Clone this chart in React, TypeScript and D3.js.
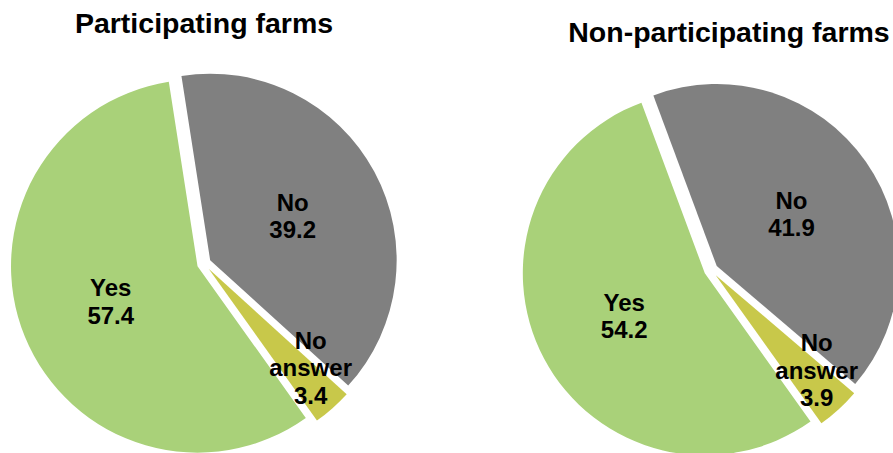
import React from "react";
import * as d3 from "d3";

const categories = ["Yes", "No", "No answer"];
const participating = [57.4, 39.2, 3.4];
const nonParticipating = [54.2, 41.9, 3.9];
const titles = ["Participating farms", "Non-participating farms"];
const colors = ["#A9D179", "#808080", "#C8C84A"];

const W = 893;
const H = 453;
const START = (144.5 * Math.PI) / 180;
const EXPLODE = 7;
const FONT = "'Liberation Sans', Arial, Helvetica, sans-serif";
const LABEL_SIZE = 24;
const LH = 27.5;
const CAP = LABEL_SIZE * 0.716;
const SMALL_NUDGE = (4 * Math.PI) / 180;

type PieProps = {
  values: number[];
  cx: number;
  cy: number;
  r: number;
  title: string;
  tx: number;
  ty: number;
};

function Pie({ values, cx, cy, r, title, tx, ty }: PieProps) {
  const pie = d3
    .pie<number>()
    .sort(null)
    .value((d) => d)
    .startAngle(START)
    .endAngle(START + 2 * Math.PI);
  const arcs = pie(values);
  const arc = d3.arc<d3.PieArcDatum<number>>().innerRadius(0).outerRadius(r);

  return (
    <g>
      <text
        x={tx}
        y={ty}
        textAnchor="middle"
        fontFamily={FONT}
        fontWeight="bold"
        fontSize={28.5}
        fill="#000"
      >
        {title}
      </text>
      <g transform={`translate(${cx},${cy})`}>
        {arcs.map((a, i) => {
          const mid = (a.startAngle + a.endAngle) / 2;
          const ox = Math.sin(mid) * EXPLODE;
          const oy = -Math.cos(mid) * EXPLODE;
          return (
            <path
              key={i}
              d={arc(a) || ""}
              fill={colors[i]}
              transform={`translate(${ox},${oy})`}
            />
          );
        })}
        {arcs.map((a, i) => {
          const small = a.value < 10;
          const mid = (a.startAngle + a.endAngle) / 2 - (small ? SMALL_NUDGE : 0);
          const frac = small ? 0.8 : 0.54;
          const lx = Math.sin(mid) * r * frac;
          const ly = -Math.cos(mid) * r * frac;
          const nameLines = categories[i].split(" ");
          const lines = [...nameLines, d3.format(".1f")(a.value)];
          const n = lines.length;
          const first = ly - ((n - 1) * LH) / 2 + CAP / 2;
          return (
            <text
              key={"l" + i}
              textAnchor="middle"
              fontFamily={FONT}
              fontWeight="bold"
              fontSize={LABEL_SIZE}
              fill="#000"
            >
              {lines.map((t, j) => (
                <tspan key={j} x={lx} y={first + j * LH}>
                  {t}
                </tspan>
              ))}
            </text>
          );
        })}
      </g>
    </g>
  );
}

export default function App() {
  return (
    <div style={{ position: "fixed", left: 0, top: 0, width: W, height: H, overflow: "hidden", background: "#fff" }}>
      <svg width={W} height={H} style={{ display: "block" }}>
        <rect width={W} height={H} fill="#fff" />
        <Pie values={participating} cx={204} cy={263.5} r={186.5} title={titles[0]} tx={204} ty={33} />
        <Pie values={nonParticipating} cx={711} cy={270} r={182} title={titles[1]} tx={729} ty={42} />
      </svg>
    </div>
  );
}
